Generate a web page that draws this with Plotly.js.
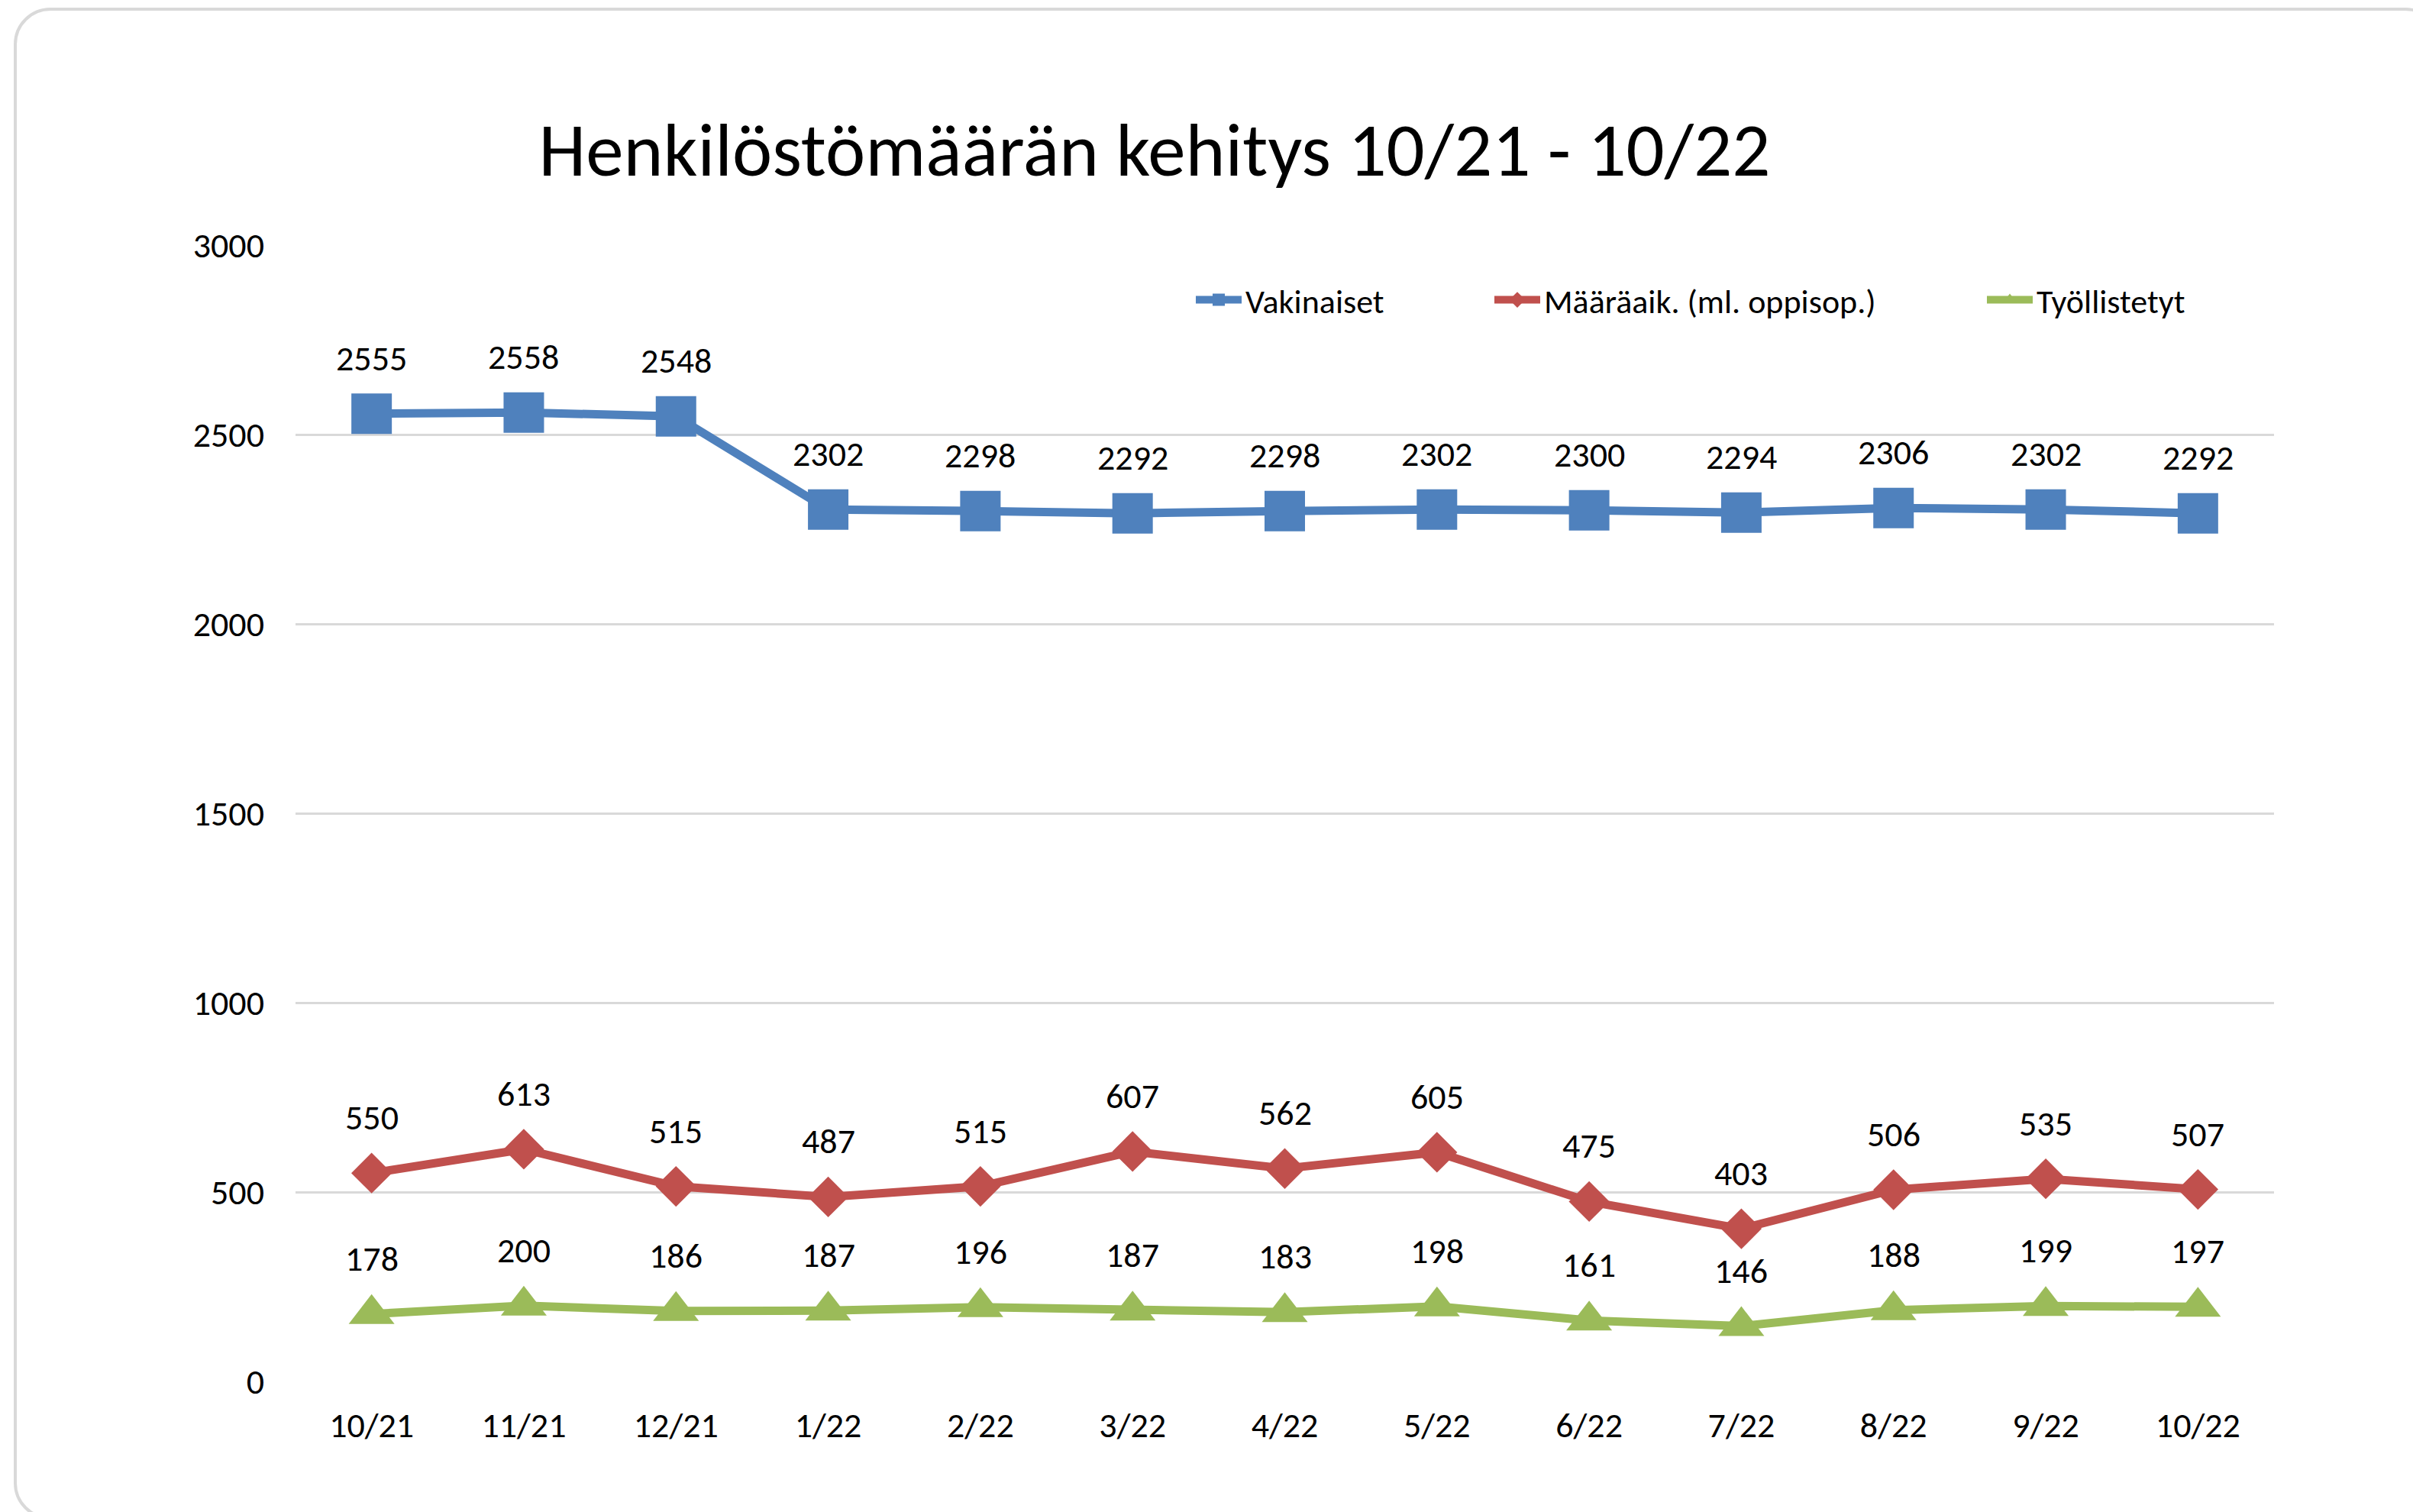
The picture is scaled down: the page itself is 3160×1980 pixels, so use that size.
<!DOCTYPE html>
<html>
<head>
<meta charset="utf-8">
<script src="https://cdn.plot.ly/plotly-3.0.1.min.js"></script>
<style>
  html, body { margin: 0; padding: 0; background: #fff; overflow: hidden; width: 3160px; height: 1980px; }
  #frame { position: absolute; left: 18px; top: 10px; width: 3180px; height: 1980px; box-sizing: border-box;
           border: 4px solid #d9d9d9; border-radius: 48px; pointer-events: none; }
  #chart { position: absolute; left: 0; top: 0; width: 3160px; height: 1980px; }
</style>
</head>
<body>
<div id="chart"></div>
<div id="frame"></div>
<script>
const months = ["10/21", "11/21", "12/21", "1/22", "2/22", "3/22", "4/22", "5/22", "6/22", "7/22", "8/22", "9/22", "10/22"];
const vakinaiset = [2555, 2558, 2548, 2302, 2298, 2292, 2298, 2302, 2300, 2294, 2306, 2302, 2292];
const maaraaikaiset = [550, 613, 515, 487, 515, 607, 562, 605, 475, 403, 506, 535, 507];
const tyollistetyt = [178, 200, 186, 187, 196, 187, 183, 198, 161, 146, 188, 199, 197];
const seriesNames = ["Vakinaiset", "Määräaik. (ml. oppisop.)", "Työllistetyt"];
const titleText = "Henkilöstömäärän kehitys 10/21 - 10/22";
const yTicks = [0, 500, 1000, 1500, 2000, 2500, 3000];

const FONT = "Carlito, Calibri, 'Liberation Sans Narrow', 'Open Sans', sans-serif";
const colors = ["#4F81BD", "#C0504D", "#9BBB59"];
const symbols = ["square", "diamond", "triangle-up"];
const msizes = [53, 41, 52];
const allSeries = [vakinaiset, maaraaikaiset, tyollistetyt];
const legendIds = ["legend", "legend2", "legend3"];
const legendTextX = [1630, 2021, 2666];   // pixel where each legend text starts

const traces = allSeries.map((vals, i) => ({
  type: "scatter",
  mode: "lines+markers",
  name: seriesNames[i],
  legend: legendIds[i],
  x: months,
  y: vals,
  line: { color: colors[i], width: 11 },
  marker: { color: colors[i], symbol: symbols[i], size: msizes[i], line: { width: 0 } },
  hoverinfo: "skip"
}));

const annotations = [];
allSeries.forEach((vals) => {
  vals.forEach((v, j) => {
    annotations.push({
      x: months[j], y: v, xref: "x", yref: "y",
      text: String(v), showarrow: false,
      yshift: 73, xanchor: "center", yanchor: "middle",
      font: { family: FONT, size: 46, color: "#000" }
    });
  });
});

const PL = 387, PR = 2978, PT = 321, PB = 1809;
function legendCfg(i) {
  return {
    orientation: "h",
    x: (legendTextX[i] - 69 - PL) / (PR - PL), xanchor: "left",
    y: (PB - 393) / (PB - PT), yanchor: "middle",
    font: { family: FONT, size: 44, color: "#000" },
    bgcolor: "rgba(0,0,0,0)",
    itemwidth: 60
  };
}

const layout = {
  width: 3160, height: 1980,
  paper_bgcolor: "rgba(0,0,0,0)", plot_bgcolor: "rgba(0,0,0,0)",
  margin: { l: PL, r: 3160 - PR, t: PT, b: 1980 - PB, pad: 0 },
  title: {
    text: titleText,
    font: { family: FONT, size: 99, color: "#000" },
    x: 1512 / 3160, xanchor: "center", xref: "container",
    y: 1 - 195 / 1980, yanchor: "middle", yref: "container"
  },
  showlegend: true,
  legend: legendCfg(0),
  legend2: legendCfg(1),
  legend3: legendCfg(2),
  xaxis: {
    type: "category",
    range: [-0.5, 12.5],
    showgrid: false, zeroline: false, showline: false,
    ticks: "", ticklabelstandoff: 26,
    tickfont: { family: FONT, size: 46, color: "#000" },
    fixedrange: true
  },
  yaxis: {
    range: [0, 3000],
    tickvals: yTicks,
    ticktext: yTicks.map(String),
    showgrid: true, gridcolor: "#d9d9d9", gridwidth: 3,
    zeroline: false, showline: false,
    ticks: "", ticklabelstandoff: 40,
    tickfont: { family: FONT, size: 46, color: "#000" },
    fixedrange: true
  },
  annotations: annotations
};

Plotly.newPlot("chart", traces, layout, { displayModeBar: false, staticPlot: true });
</script>
</body>
</html>
